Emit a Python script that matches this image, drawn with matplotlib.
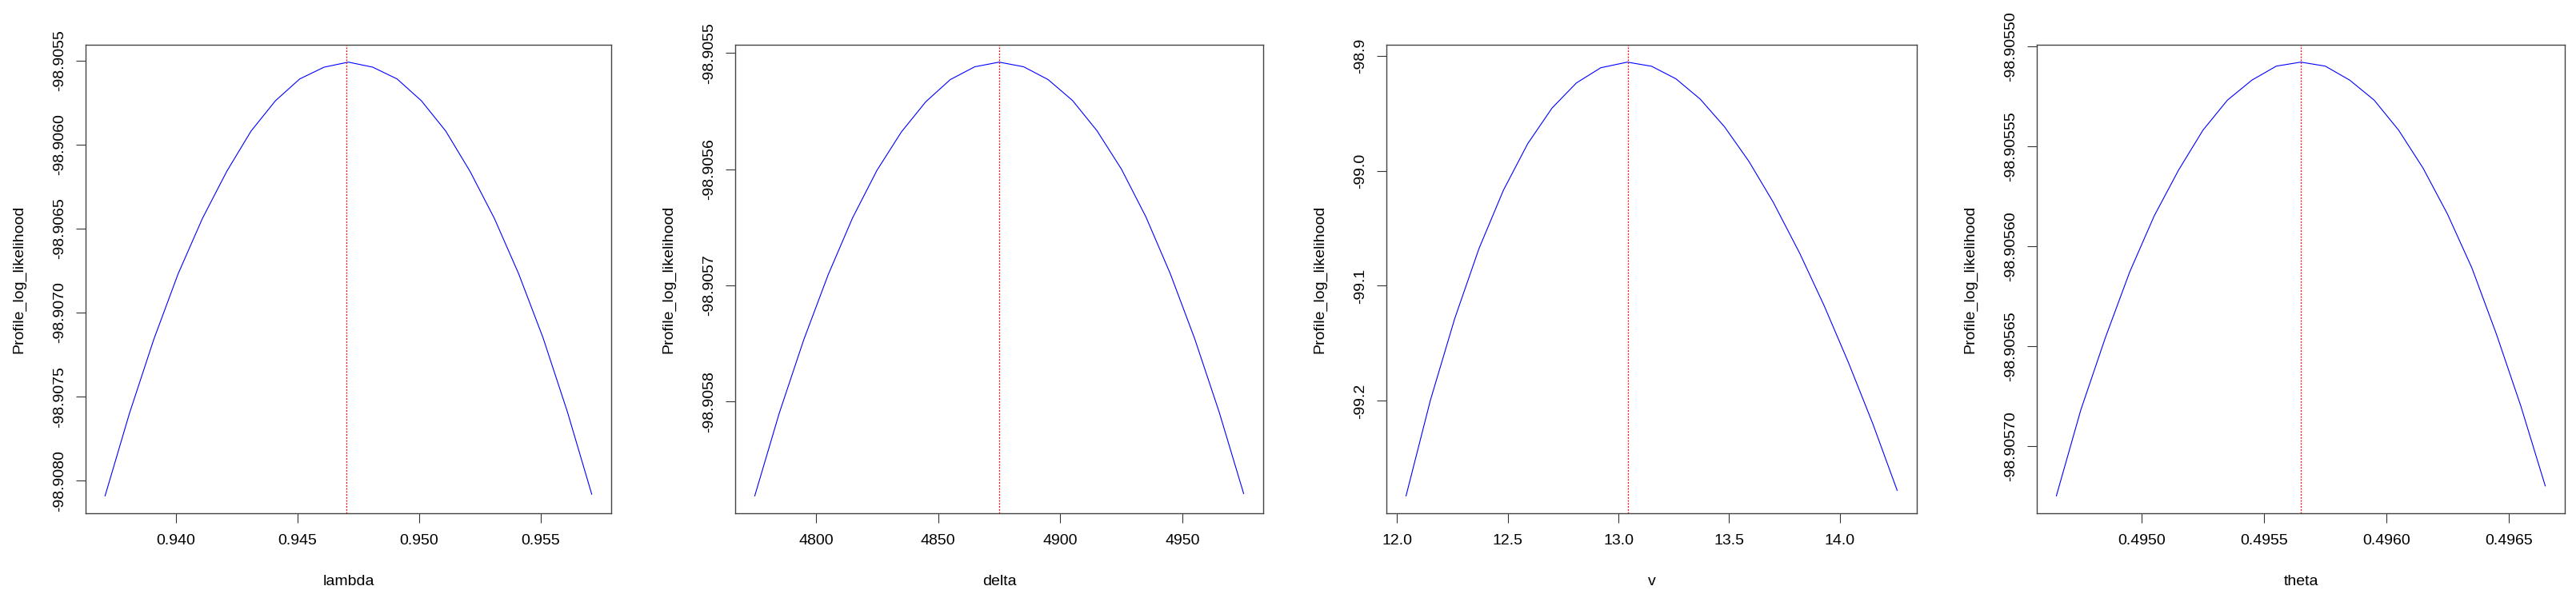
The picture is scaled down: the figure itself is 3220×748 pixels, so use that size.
import matplotlib
matplotlib.use("Agg")
import matplotlib.pyplot as plt

plt.rcParams['font.family'] = ['Liberation Sans', 'DejaVu Sans']

# profile log-likelihood curves
lambda_x = [0.9371, 0.9381, 0.9391, 0.9401, 0.9411, 0.9421, 0.9431, 0.9441, 0.9451, 0.9461, 0.9471,
            0.9481, 0.9491, 0.9501, 0.9511, 0.9521, 0.9531, 0.9541, 0.9551, 0.9561, 0.9571]
lambda_ll = [-98.90809, -98.90760, -98.90716, -98.90677, -98.90644, -98.90616, -98.90592, -98.90574,
             -98.90561, -98.90554, -98.90551, -98.90554, -98.90561, -98.90574, -98.90592, -98.90616,
             -98.90644, -98.90677, -98.90715, -98.90759, -98.90808]
lambda_hat = 0.94703

delta_x = [4775, 4785, 4795, 4805, 4815, 4825, 4835, 4845, 4855, 4865, 4875,
           4885, 4895, 4905, 4915, 4925, 4935, 4945, 4955, 4965, 4975]
delta_ll = [-98.905881, -98.905810, -98.905747, -98.905691, -98.905642, -98.905601, -98.905568,
            -98.905542, -98.905523, -98.905512, -98.905508, -98.905512, -98.905523, -98.905541,
            -98.905567, -98.905600, -98.905641, -98.905690, -98.905746, -98.905809, -98.905879]
delta_hat = 4875

v_x = [12.04, 12.15, 12.26, 12.37, 12.48, 12.59, 12.70, 12.81, 12.92, 13.04, 13.15,
       13.26, 13.37, 13.48, 13.59, 13.70, 13.82, 13.93, 14.04, 14.15, 14.26]
v_ll = [-99.2826, -99.1995, -99.1285, -99.0675, -99.0170, -98.9765, -98.9455, -98.9237,
        -98.9105, -98.9056, -98.9092, -98.9201, -98.9378, -98.9619, -98.9919, -99.0274,
        -99.0719, -99.1173, -99.1668, -99.2199, -99.2778]
v_hat = 13.043

theta_x = [0.49465, 0.49475, 0.49485, 0.49495, 0.49505, 0.49515, 0.49525, 0.49535, 0.49545, 0.49555,
           0.49565, 0.49575, 0.49585, 0.49595, 0.49605, 0.49615, 0.49625, 0.49635, 0.49645, 0.49655, 0.49665]
theta_ll = [-98.905725, -98.905682, -98.905646, -98.905613, -98.905585, -98.905562, -98.905542,
            -98.905527, -98.905517, -98.905510, -98.905508, -98.905510, -98.905517, -98.905527,
            -98.905542, -98.905561, -98.905584, -98.905611, -98.905644, -98.905680, -98.905720]
theta_hat = 0.49565

# tick labels as printed
lambda_xticks = ["0.940", "0.945", "0.950", "0.955"]
lambda_yticks = ["-98.9055", "-98.9060", "-98.9065", "-98.9070", "-98.9075", "-98.9080"]
delta_xticks = ["4800", "4850", "4900", "4950"]
delta_yticks = ["-98.9055", "-98.9056", "-98.9057", "-98.9058"]
v_xticks = ["12.0", "12.5", "13.0", "13.5", "14.0"]
v_yticks = ["-98.9", "-99.0", "-99.1", "-99.2"]
theta_xticks = ["0.4950", "0.4955", "0.4960", "0.4965"]
theta_yticks = ["-98.90550", "-98.90555", "-98.90560", "-98.90565", "-98.90570"]

panels = [
    ("lambda", lambda_x, lambda_ll, lambda_hat, lambda_xticks, lambda_yticks, 107, 764),
    ("delta", delta_x, delta_ll, delta_hat, delta_xticks, delta_yticks, 919, 1579),
    ("v", v_x, v_ll, v_hat, v_xticks, v_yticks, 1733, 2396),
    ("theta", theta_x, theta_ll, theta_hat, theta_xticks, theta_yticks, 2546, 3206),
]

W, H = 3220, 748
top, bottom = 56, 642
fig = plt.figure(figsize=(W / 100, H / 100), dpi=100)

for name, xs, ys, hat, xt, yt, left, right in panels:
    ax = fig.add_axes([left / W, 1 - bottom / H, (right - left) / W, (bottom - top) / H])
    ax.plot(xs, ys, color="blue", lw=0.8)
    ax.margins(0.04)
    ax.axvline(hat, color="red", lw=0.9, ls=(0, (1.5, 1.5)))
    ax.set_xticks([float(t) for t in xt], xt)
    ax.set_yticks([float(t) for t in yt], yt)
    ax.tick_params(axis="both", length=8.5, width=0.8, color="#333333", labelsize=14)
    ax.tick_params(axis="x", pad=10)
    ax.tick_params(axis="y", pad=9)
    for lab in ax.get_yticklabels():
        lab.set_rotation(90)
        lab.set_va("center")
    for sp in ax.spines.values():
        sp.set_color("#444444")
        sp.set_linewidth(1.0)
    w = right - left
    ax.set_xlabel(name, fontsize=14, va="center")
    ax.xaxis.set_label_coords(0.5, -(727 - bottom) / (bottom - top))
    ax.set_ylabel("Profile_log_likelihood", fontsize=14, va="center")
    ax.yaxis.set_label_coords(-83 / w, 0.5)

fig.savefig("out.png", dpi=100)
